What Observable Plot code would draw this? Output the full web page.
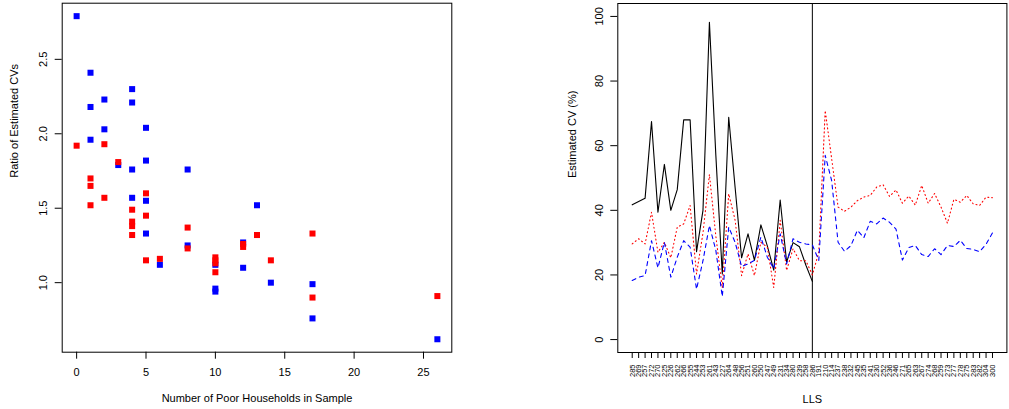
<!DOCTYPE html>
<html><head><meta charset="utf-8">
<script src="https://cdn.jsdelivr.net/npm/d3@7"></script>
<script src="https://cdn.jsdelivr.net/npm/@observablehq/plot@0.6"></script>
<style>
body{margin:0;background:#fff;}
#wrap{display:flex;width:1009px;height:409px;overflow:hidden;}
svg{display:block;}
</style></head><body><div id="wrap"></div>
<script>
// Left panel: ratio of estimated CVs vs number of poor households
const blueHouseholds = [0,1,1,1,2,2,3,4,4,4,4,5,5,5,5,6,8,8,10,10,10,12,12,13,14,17,17,26];
const blueRatios = [2.79,2.41,2.18,1.96,2.23,2.03,1.79,2.30,2.21,1.76,1.57,2.04,1.82,1.55,1.33,1.12,1.76,1.25,1.12,0.96,0.94,1.27,1.10,1.52,1.00,0.99,0.76,0.62];
const redHouseholds = [0,1,1,1,2,2,3,4,4,4,4,5,5,5,6,8,8,10,10,10,10,12,12,13,14,17,17,26];
const redRatios = [1.92,1.70,1.65,1.52,1.93,1.57,1.81,1.49,1.41,1.38,1.32,1.60,1.45,1.15,1.16,1.37,1.23,1.17,1.15,1.13,1.07,1.26,1.24,1.32,1.15,1.33,0.90,0.91];
const scatterXTicks = [0,5,10,15,20,25];
const scatterYTicks = [1.0,1.5,2.0,2.5];

// Right panel: estimated CV (%) by LLS
const llsCodes = [285,269,257,272,270,225,226,262,266,255,244,253,261,243,227,264,248,256,251,260,250,247,249,231,234,280,239,258,286,
  191,210,214,237,238,232,245,235,241,230,252,236,246,271,265,263,267,274,268,259,273,277,278,275,283,282,304,300];
const cvDirect = [41.7,42.7,43.7,67.5,39.4,54.2,40.0,46.4,68.0,68.0,27.2,40.0,98.2,57,20.3,68.8,47,25.3,32.7,24.5,35.5,29,21.5,43.2,24,30,28.7,23,18];
const cvRed = [29.6,31.2,29.6,39.4,27.0,30.1,25.3,34.8,35.8,41.5,20.3,33,51.1,32,16,45.1,36.9,19.8,26.5,19.8,30.1,28.6,16.1,36.9,21.4,28.1,24.4,24.4,20,
  27,70.9,56,41.0,39.7,41.0,43.0,44.1,44.6,47.2,47.9,44.3,46.3,42.2,44.4,41.6,47.7,42.2,45.2,41.0,36.0,43.4,42.5,44.6,42.0,41.5,44.1,43.9];
const cvBlue = [18.3,19.3,19.8,30.6,22.2,30.1,19.3,25.5,30.6,28.6,15.6,24.4,35.3,27.6,13.3,34.8,30.1,22.6,23.4,24.5,31.7,25.5,21.9,32.7,23.4,31.2,30.1,29.6,29.3,
  24.5,57.0,49.2,30.1,27.3,29.1,33.8,31.5,36.6,35.8,37.6,36.3,34.2,24.6,28.5,29.1,26.3,25.7,28.1,26.3,29.1,28.8,30.7,28.2,27.9,27.2,29.5,33.0];
const cvYTicks = [0,20,40,60,80,100];
const separatorIndex = 29;

const font = {fontFamily: "'Liberation Sans', Arial, Helvetica, sans-serif", fontSize: "11px", background: "#fff", color: "#000", overflow: "visible"};

const bluePts = blueHouseholds.map((x, i) => ({x, y: blueRatios[i]}));
const redPts = redHouseholds.map((x, i) => ({x, y: redRatios[i]}));

const left = Plot.plot({
  width: 500, height: 409,
  marginLeft: 61.7, marginRight: 48.7, marginTop: 2.7, marginBottom: 57.3,
  style: font,
  x: {domain: [-1.04, 27.04]},
  y: {domain: [0.533, 2.877]},
  marks: [
    Plot.frame({stroke: "#000"}),
    Plot.axisX({ticks: scatterXTicks, tickSize: 7, tickPadding: 9, label: null, tickFormat: d => String(d)}),
    Plot.axisY({ticks: scatterYTicks, tickSize: 7, tickPadding: 8, tickRotate: -90, label: null, tickFormat: d3.format(".1f")}),
    Plot.dot(bluePts, {x: "x", y: "y", symbol: "square", r: 3.4, fill: "#0000ff", stroke: "none"}),
    Plot.dot(redPts, {x: "x", y: "y", symbol: "square", r: 3.4, fill: "#ff0000", stroke: "none"}),
    Plot.text(["Number of Poor Households in Sample"], {text: d => d, frameAnchor: "bottom", dy: 49.5}),
    Plot.text(["Ratio of Estimated CVs"], {text: d => d, frameAnchor: "left", dx: -47.7, rotate: -90})
  ]
});

const idx = d3.range(1, llsCodes.length + 1);
const right = Plot.plot({
  width: 509, height: 409,
  marginLeft: 117.3, marginRight: 2.6, marginTop: 3, marginBottom: 57,
  style: font,
  x: {domain: [-1.24, 59.24]},
  y: {domain: [-4, 104]},
  marks: [
    Plot.frame({stroke: "#000"}),
    Plot.axisY({ticks: cvYTicks, tickSize: 7, tickPadding: 8, tickRotate: -90, label: null}),
    Plot.axisX({ticks: idx, tickSize: 6, tickPadding: 6, tickRotate: -90, fontSize: 7.5, label: null, tickFormat: i => String(llsCodes[i - 1])}),
    Plot.ruleX([separatorIndex], {stroke: "#000", strokeWidth: 1}),
    Plot.line(cvDirect, {x: (d, i) => i + 1, y: d => d, stroke: "#000", strokeWidth: 1.1}),
    Plot.line(cvRed, {x: (d, i) => i + 1, y: d => d, stroke: "#ff0000", strokeWidth: 1.1, strokeDasharray: "1,3"}),
    Plot.line(cvBlue, {x: (d, i) => i + 1, y: d => d, stroke: "#0000ff", strokeWidth: 1.1, strokeDasharray: "4,4"}),
    Plot.text(["LLS"], {text: d => d, frameAnchor: "bottom", dy: 50}),
    Plot.text(["Estimated CV (%)"], {text: d => d, frameAnchor: "left", dx: -45.3, rotate: -90})
  ]
});

const wrap = document.getElementById("wrap");
wrap.appendChild(left);
wrap.appendChild(right);
</script>
</body></html>
